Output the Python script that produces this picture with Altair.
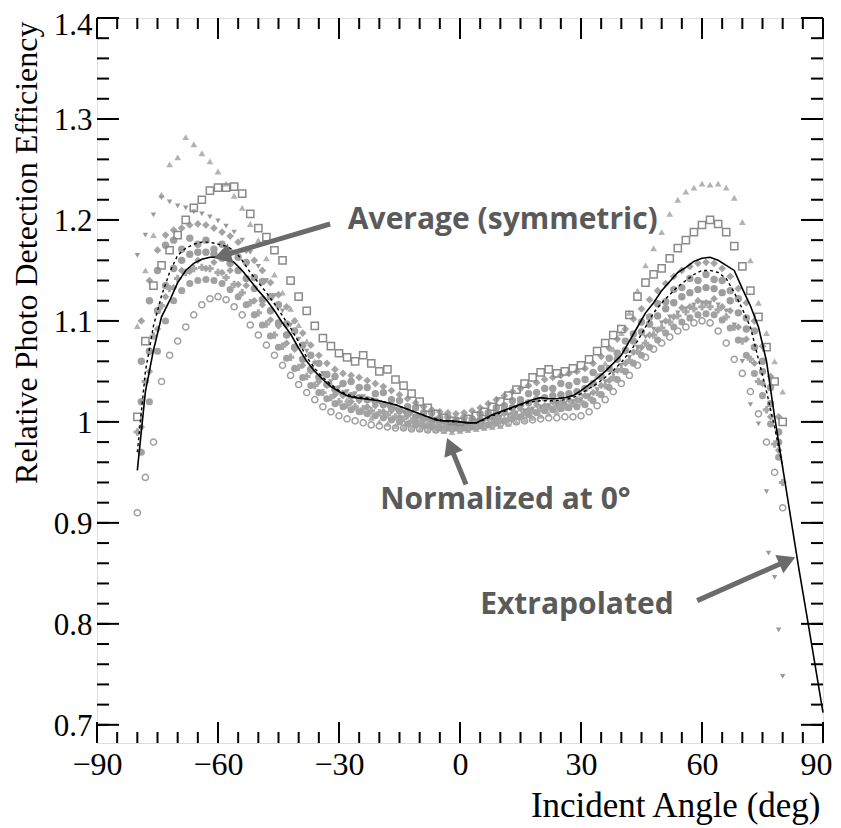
import math
import altair as alt
import pandas as pd

# ---------------- data ----------------
X_EVEN = list(range(-80, 81, 2))
X_ODD = list(range(-79, 80, 2))
X_LINE = list(range(-80, 91, 2))

tri_up = [1.095, 1.150, 1.185, 1.225, 1.255, 1.262, 1.282, 1.275, 1.266, 1.258,
          1.248, 1.236, 1.224, 1.212, 1.196, 1.180, 1.162, 1.146, 1.128, 1.112,
          1.096, 1.080, 1.060, 1.048, 1.038, 1.030, 1.022, 1.015, 1.010, 1.004,
          1.000, 0.998, 0.996, 0.995, 0.994, 0.993, 0.992, 0.992, 0.991, 0.990,
          0.991,
          0.992, 0.993, 0.994, 0.995, 0.996, 0.998, 1.000, 1.002, 1.004, 1.006,
          1.008, 1.010, 1.014, 1.020, 1.028, 1.036, 1.046, 1.058, 1.072, 1.088,
          1.108, 1.130, 1.155, 1.172, 1.188, 1.206, 1.220, 1.228, 1.232, 1.236,
          1.235, 1.236, 1.232, 1.222, 1.198, 1.160, 1.118, 1.088, 1.060, 1.030]

squares = [1.005, 1.080, 1.135, 1.155, 1.170, 1.185, 1.200, 1.212, 1.220, 1.229,
           1.232, 1.232, 1.233, 1.226, 1.206, 1.192, 1.183, 1.170, 1.160, 1.140,
           1.124, 1.110, 1.095, 1.083, 1.075, 1.068, 1.064, 1.060, 1.066, 1.058,
           1.050, 1.052, 1.042, 1.036, 1.028, 1.020, 1.014, 1.008, 1.004, 1.001,
           1.000,
           1.003, 1.006, 1.010, 1.015, 1.020, 1.026, 1.032, 1.038, 1.044, 1.049,
           1.052, 1.048, 1.050, 1.053, 1.056, 1.062, 1.070, 1.078, 1.086, 1.092,
           1.106, 1.124, 1.138, 1.146, 1.152, 1.162, 1.172, 1.180, 1.188, 1.195,
           1.200, 1.196, 1.188, 1.174, 1.154, 1.130, 1.104, 1.074, 1.040, 1.000]

tri_down = [1.165, 1.185, 1.205, 1.222, 1.218, 1.214, 1.212, 1.208, 1.206, 1.203,
            1.199, 1.194, 1.188, 1.180, 1.168, 1.154, 1.140, 1.125, 1.110, 1.096,
            1.082, 1.070, 1.058, 1.048, 1.040, 1.034, 1.030, 1.028, 1.025, 1.022,
            1.019, 1.016, 1.013, 1.010, 1.008, 1.005, 1.003, 1.001, 0.999, 0.998,
            0.997,
            0.998, 0.999, 1.001, 1.003, 1.005, 1.007, 1.009, 1.011, 1.013, 1.015,
            1.016, 1.017, 1.018, 1.020, 1.022, 1.026, 1.032, 1.040, 1.048, 1.056,
            1.064, 1.074, 1.084, 1.092, 1.098, 1.104, 1.108, 1.112, 1.116, 1.118,
            1.118, 1.116, 1.110, 1.096, 1.060, 1.017, 0.998, 0.931, 0.846, 0.748]
outlier_x = [76.5, 79.0]
outlier_y = [0.870, 0.794]

circles = [0.910, 0.945, 0.980, 1.040, 1.066, 1.080, 1.094, 1.106, 1.116, 1.122,
           1.124, 1.121, 1.114, 1.106, 1.096, 1.086, 1.076, 1.066, 1.056, 1.046,
           1.037, 1.029, 1.022, 1.015, 1.010, 1.006, 1.003, 1.001, 0.999, 0.997,
           0.996, 0.995, 0.994, 0.994, 0.993, 0.993, 0.992, 0.992, 0.992, 0.993,
           0.993,
           0.994, 0.995, 0.996, 0.997, 0.998, 0.999, 1.000, 1.001, 1.002, 1.003,
           1.004, 1.004, 1.005, 1.005, 1.006, 1.010, 1.016, 1.022, 1.030, 1.038,
           1.046, 1.056, 1.064, 1.072, 1.078, 1.084, 1.090, 1.094, 1.098, 1.100,
           1.098, 1.090, 1.078, 1.062, 1.048, 1.030, 1.008, 0.980, 0.950, 0.915]

band_e = [1.100, 1.140, 1.170, 1.185, 1.190, 1.192, 1.195, 1.196, 1.195, 1.192,
          1.188, 1.184, 1.178, 1.170, 1.160, 1.150, 1.138, 1.126, 1.114, 1.100,
          1.088, 1.076, 1.066, 1.058, 1.052, 1.048, 1.046, 1.044, 1.041, 1.038,
          1.035, 1.031, 1.027, 1.023, 1.019, 1.015, 1.012, 1.010, 1.009, 1.008,
          1.009, 1.011, 1.014, 1.018, 1.022, 1.026, 1.030, 1.033, 1.036, 1.039,
          1.042, 1.044, 1.046, 1.048, 1.050, 1.053, 1.058, 1.065, 1.073, 1.082,
          1.092, 1.102, 1.112, 1.121, 1.130, 1.137, 1.144, 1.150, 1.154, 1.157,
          1.158, 1.157, 1.152, 1.144, 1.132, 1.118, 1.100, 1.075, 1.045, 1.005]

band_f = [1.020, 1.070, 1.110, 1.135, 1.152, 1.160, 1.166, 1.168, 1.168, 1.166,
          1.162, 1.157, 1.150, 1.142, 1.132, 1.121, 1.110, 1.098, 1.086, 1.074,
          1.062, 1.052, 1.044, 1.037, 1.032, 1.028, 1.026, 1.024, 1.022, 1.020,
          1.017, 1.014, 1.011, 1.008, 1.005, 1.003, 1.001, 1.000, 0.999, 0.998,
          0.999, 1.000, 1.002, 1.005, 1.008, 1.011, 1.014, 1.017, 1.019, 1.022,
          1.024, 1.026, 1.027, 1.028, 1.030, 1.033, 1.038, 1.045, 1.053, 1.062,
          1.071, 1.080, 1.089, 1.097, 1.105, 1.112, 1.118, 1.124, 1.128, 1.131,
          1.133, 1.132, 1.128, 1.120, 1.108, 1.092, 1.074, 1.050, 1.018, 0.980]

band_g = [0.990, 1.040, 1.085, 1.115, 1.132, 1.142, 1.148, 1.152, 1.153, 1.152,
          1.148, 1.143, 1.136, 1.128, 1.118, 1.108, 1.097, 1.086, 1.075, 1.064,
          1.054, 1.045, 1.036, 1.029, 1.024, 1.020, 1.017, 1.015, 1.013, 1.011,
          1.009, 1.007, 1.005, 1.003, 1.001, 0.999, 0.997, 0.995, 0.994, 0.993,
          0.993,
          0.994, 0.995, 0.997, 0.999, 1.001, 1.003, 1.006, 1.009, 1.011, 1.013,
          1.015, 1.016, 1.017, 1.018, 1.020, 1.024, 1.029, 1.036, 1.044, 1.052,
          1.061, 1.070, 1.078, 1.086, 1.093, 1.099, 1.105, 1.109, 1.112, 1.114,
          1.114, 1.111, 1.104, 1.094, 1.080, 1.062, 1.040, 1.012, 0.978, 0.940]

band_h = [0.970, 1.020, 1.070, 1.100, 1.120, 1.130, 1.137, 1.140, 1.141, 1.140,
          1.137, 1.131, 1.124, 1.116, 1.106, 1.096, 1.085, 1.074, 1.063, 1.053,
          1.044, 1.036, 1.029, 1.023, 1.018, 1.015, 1.012, 1.010, 1.008, 1.006,
          1.004, 1.002, 1.000, 0.998, 0.997, 0.996, 0.995, 0.994, 0.994, 0.994,
          0.994, 0.995, 0.996, 0.997, 0.999, 1.001, 1.003, 1.005, 1.007, 1.009,
          1.011, 1.012, 1.013, 1.014, 1.015, 1.017, 1.021, 1.027, 1.034, 1.042,
          1.050, 1.058, 1.066, 1.074, 1.081, 1.088, 1.094, 1.099, 1.103, 1.106,
          1.107, 1.106, 1.101, 1.093, 1.081, 1.066, 1.048, 1.026, 0.998, 0.965]

# two further scattered runs inside the band (odd angles), irregular
band_i = [1.060, 1.120, 1.150, 1.175, 1.180, 1.171, 1.182, 1.176, 1.180, 1.171,
          1.176, 1.168, 1.163, 1.158, 1.143, 1.139, 1.124, 1.116, 1.097, 1.090,
          1.076, 1.066, 1.058, 1.047, 1.045, 1.038, 1.040, 1.034, 1.034, 1.028,
          1.029, 1.022, 1.021, 1.015, 1.014, 1.009, 1.009, 1.004, 1.005, 1.002,
          1.004, 1.003, 1.008, 1.009, 1.014, 1.016, 1.021, 1.022, 1.028, 1.029,
          1.033, 1.033, 1.038, 1.036, 1.040, 1.042, 1.049, 1.053, 1.063, 1.068,
          1.080, 1.087, 1.099, 1.104, 1.117, 1.119, 1.131, 1.133, 1.142, 1.140,
          1.146, 1.141, 1.140, 1.130, 1.122, 1.103, 1.090, 1.060, 1.034, 0.990]
band_j = [0.995, 1.050, 1.092, 1.124, 1.133, 1.150, 1.149, 1.160, 1.152, 1.158,
          1.148, 1.150, 1.136, 1.135, 1.120, 1.116, 1.101, 1.095, 1.078, 1.072,
          1.056, 1.050, 1.040, 1.036, 1.027, 1.026, 1.020, 1.021, 1.015, 1.016,
          1.010, 1.011, 1.005, 1.006, 1.001, 1.002, 0.997, 0.999, 0.996, 0.997,
          0.996, 0.999, 0.998, 1.003, 1.003, 1.008, 1.008, 1.013, 1.012, 1.017,
          1.016, 1.020, 1.019, 1.022, 1.022, 1.026, 1.029, 1.036, 1.041, 1.051,
          1.058, 1.069, 1.074, 1.086, 1.091, 1.100, 1.104, 1.113, 1.114, 1.120,
          1.118, 1.122, 1.114, 1.110, 1.094, 1.082, 1.058, 1.038, 1.005, 0.972]

avg_sym = [0.952, 1.030, 1.071, 1.104, 1.120, 1.138, 1.150, 1.157, 1.161, 1.163,
           1.163, 1.162, 1.158, 1.150, 1.140, 1.130, 1.121, 1.110, 1.098, 1.087,
           1.073, 1.060, 1.050, 1.042, 1.035, 1.030, 1.026, 1.024, 1.023, 1.022,
           1.021, 1.019, 1.017, 1.014, 1.011, 1.008, 1.005, 1.002, 1.001, 1.001,
           1.000,
           0.999, 0.999, 1.003, 1.007, 1.010, 1.013, 1.016, 1.019, 1.022, 1.024,
           1.023, 1.023, 1.024, 1.026, 1.031, 1.037, 1.043, 1.050, 1.058, 1.066,
           1.080, 1.094, 1.108, 1.118, 1.130, 1.139, 1.148, 1.153, 1.159, 1.162,
           1.163, 1.160, 1.155, 1.150, 1.132, 1.115, 1.094, 1.060, 1.005, 0.955,
           0.905, 0.855, 0.808, 0.760, 0.712]

avg_raw = [0.970, 1.050, 1.095, 1.125, 1.148, 1.165, 1.172, 1.176, 1.178, 1.178,
           1.176, 1.174, 1.170, 1.160, 1.148, 1.138, 1.128, 1.117, 1.105, 1.093,
           1.079, 1.064, 1.053, 1.044, 1.037, 1.031, 1.027, 1.025, 1.024, 1.023,
           1.021, 1.019, 1.017, 1.014, 1.011, 1.008, 1.005, 1.003, 1.001, 1.000,
           1.000,
           0.999, 0.999, 1.002, 1.006, 1.009, 1.012, 1.015, 1.018, 1.020, 1.021,
           1.021, 1.021, 1.022, 1.024, 1.028, 1.033, 1.038, 1.044, 1.051, 1.059,
           1.069, 1.080, 1.094, 1.108, 1.118, 1.126, 1.134, 1.140, 1.146, 1.150,
           1.150, 1.148, 1.142, 1.128, 1.112, 1.094, 1.062, 1.030, 0.995, 0.955]

X_MAJOR = [-90, -60, -30, 0, 30, 60, 90]
X_MINOR = list(range(-90, 91, 5))
Y_MAJOR = [0.7, 0.8, 0.9, 1.0, 1.1, 1.2, 1.3, 1.4]
Y_MINOR = [0.70, 0.72, 0.74, 0.76, 0.78, 0.80, 0.82, 0.84, 0.86, 0.88, 0.90,
           0.92, 0.94, 0.96, 0.98, 1.00, 1.02, 1.04, 1.06, 1.08, 1.10, 1.12,
           1.14, 1.16, 1.18, 1.20, 1.22, 1.24, 1.26, 1.28, 1.30, 1.32, 1.34,
           1.36, 1.38, 1.40]

notes = ["Average (symmetric)", "Normalized at 0\u00b0", "Extrapolated"]
note_x = [-27.8, -19.8, 5.0]
note_y = [1.200, 0.923, 0.819]
# arrows: tail (x, y) -> tip (x, y)
arrow_tail_x = [-32.2, 1.5, 58.8]
arrow_tail_y = [1.196, 0.938, 0.823]
arrow_tip_x = [-61.0, -3.2, 83.1]
arrow_tip_y = [1.162, 0.984, 0.866]

# ---------------- layout / style ----------------
W, H = 726, 725
X_DOM = [-90, 90]
Y_DOM = [0.682, 1.4]
PX_PER_X = W / (X_DOM[1] - X_DOM[0])
PX_PER_Y = H / (Y_DOM[1] - Y_DOM[0])
SERIF = "Liberation Serif"

xs = alt.Scale(domain=X_DOM, nice=False, zero=False)
ys = alt.Scale(domain=Y_DOM, nice=False, zero=False)

x_axis = alt.Axis(values=X_MAJOR, title="Incident Angle (deg)", ticks=False,
                  domain=False, grid=False, labelFont=SERIF, labelFontSize=32,
                  labelColor="black", labelPadding=6, labelFlush=False,
                  labelAlign={"condition": {"test": "datum.value >= 90", "value": "right"},
                              "value": "center"},
                  labelOffset={"condition": {"test": "datum.value >= 90", "value": 9},
                               "value": 0},
                  titleFont=SERIF, titleFontSize=35, titleFontWeight="normal",
                  titleColor="black", titleAlign="right", titleAnchor="end",
                  titleBaseline="alphabetic", titleX=W - 3, titleY=73)
y_axis = alt.Axis(values=Y_MAJOR, format="~g", title="Relative Photo Detection Efficiency",
                  ticks=False, domain=False, grid=False, labelFont=SERIF,
                  labelFontSize=31, labelColor="black", labelPadding=5,
                  labelOffset={"condition": {"test": "datum.value >= 1.39", "value": 7},
                               "value": 2},
                  labelFlush=False, titleFont=SERIF, titleFontSize=32,
                  titleFontWeight="normal", titleColor="black", titleAngle=270,
                  titleAlign="right", titleAnchor="end", titleBaseline="alphabetic",
                  titleX=-61, titleY=3)


def X(field):
    return alt.X(field, scale=xs, axis=x_axis)


def Y(field):
    return alt.Y(field, scale=ys, axis=y_axis)


def pts(xv, yv, shape, size, color, filled=True, sw=1.4):
    df = pd.DataFrame({"x": xv, "y": yv})
    if filled:
        m = alt.Chart(df).mark_point(shape=shape, size=size, filled=True,
                                     color=color, opacity=1, strokeWidth=0)
    else:
        m = alt.Chart(df).mark_point(shape=shape, size=size, filled=False,
                                     color=color, opacity=1, strokeWidth=sw)
    return m.encode(x=X("x:Q"), y=Y("y:Q"))


layers = [
    pts(X_EVEN, tri_up, "triangle-up", 46, "#b3b3b3"),
    pts(X_ODD, band_e, "diamond", 60, "#a4a4a4"),
    pts(X_ODD, band_i, "circle", 55, "#a0a0a0"),
    pts(X_ODD, band_f, "circle", 55, "#9d9d9d"),
    pts(X_EVEN, band_g, "cross", 55, "#a8a8a8"),
    pts(X_ODD, band_j, "diamond", 55, "#a2a2a2"),
    pts(X_ODD, band_h, "circle", 50, "#a2a2a2"),
    pts(X_EVEN, circles, "circle", 38, "#a0a0a0", filled=False, sw=1.5),
    pts(X_EVEN, tri_down, "triangle-down", 30, "#9a9a9a"),
    pts(outlier_x, outlier_y, "triangle-down", 30, "#9a9a9a"),
    pts(X_EVEN, squares, "square", 52, "#8a8a8a", filled=False, sw=1.5),
]

line_sym = alt.Chart(pd.DataFrame({"x": X_LINE, "y": avg_sym})).mark_line(
    color="black", strokeWidth=1.6).encode(x=X("x:Q"), y=Y("y:Q"))
line_raw = alt.Chart(pd.DataFrame({"x": X_EVEN, "y": avg_raw})).mark_line(
    color="black", strokeWidth=1.4, strokeDash=[3, 3]).encode(x=X("x:Q"), y=Y("y:Q"))
layers += [line_raw, line_sym]

# annotation arrows
HEAD = 20.0  # px width of arrow head
ax_rows = []
for tx, ty, hx, hy in zip(arrow_tail_x, arrow_tail_y, arrow_tip_x, arrow_tip_y):
    dx = (hx - tx) * PX_PER_X
    dy = -(hy - ty) * PX_PER_Y  # screen y downward
    L = math.hypot(dx, dy)
    ux, uy = dx / L, dy / L
    back = HEAD * 0.866 / 2
    cx = hx - ux * back / PX_PER_X
    cy = hy + uy * back / PX_PER_Y
    ang = math.degrees(math.atan2(dx, -dy)) % 360
    ax_rows.append({"x": tx, "y": ty, "x2": cx, "y2": cy, "ang": ang})
adf = pd.DataFrame(ax_rows)
ARROW_COLOR = "#6b6b6b"
shafts = alt.Chart(adf).mark_rule(color=ARROW_COLOR, strokeWidth=5).encode(
    x=X("x:Q"), y=Y("y:Q"), x2="x2:Q", y2="y2:Q")
heads = alt.Chart(adf).mark_point(shape="triangle-up", filled=True, size=HEAD * HEAD,
                                  color=ARROW_COLOR, opacity=1, strokeWidth=0).encode(
    x=X("x2:Q"), y=Y("y2:Q"), angle=alt.Angle("ang:Q", scale=None))
texts = alt.Chart(pd.DataFrame({"x": note_x, "y": note_y, "t": notes})).mark_text(
    font="Open Sans", fontWeight="bold", fontSize=30, color="#5a5a5a",
    align="left", baseline="middle").encode(x=X("x:Q"), y=Y("y:Q"), text="t:N")
layers += [shafts, heads, texts]


# inward ticks on all four sides
def xticks(vals, length, top):
    df = pd.DataFrame({"x": vals})
    if top:
        yy, yy2 = alt.value(0), alt.value(length)
    else:
        yy, yy2 = alt.value(H), alt.value(H - length)
    return alt.Chart(df).mark_rule(color="black", strokeWidth=2).encode(
        x=X("x:Q"), y=yy, y2=yy2)


def yticks(vals, length, right):
    df = pd.DataFrame({"y": vals})
    if right:
        xx, xx2 = alt.value(W), alt.value(W - length)
    else:
        xx, xx2 = alt.value(0), alt.value(length)
    return alt.Chart(df).mark_rule(color="black", strokeWidth=2).encode(
        y=Y("y:Q"), x=xx, x2=xx2)


layers += [xticks(X_MINOR, 11, False), xticks(X_MAJOR, 21, False),
           xticks(X_MINOR, 11, True), xticks(X_MAJOR, 21, True),
           yticks(Y_MINOR, 12, False), yticks(Y_MAJOR, 22, False),
           yticks(Y_MINOR, 12, True), yticks(Y_MAJOR, 22, True)]

chart = alt.layer(*layers).properties(
    width=W, height=H,
    autosize=alt.AutoSizeParams(type="none"),
    padding={"left": 89, "top": 10, "right": 10, "bottom": 85},
).configure_view(stroke="black", strokeWidth=2).configure(background="white")

chart.save("out.html", embed_options={"renderer": "svg", "actions": False})
